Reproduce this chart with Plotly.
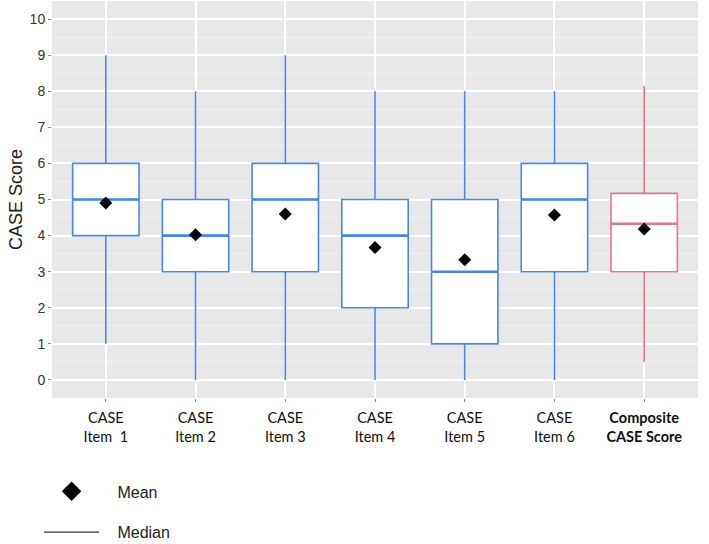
import plotly.graph_objects as go

categories = ["CASE<br>Item  1", "CASE<br>Item 2", "CASE<br>Item 3", "CASE<br>Item 4",
              "CASE<br>Item 5", "CASE<br>Item 6", "<b>Composite</b><br><b>CASE Score</b>"]
q1 = [4, 3, 3, 2, 1, 3, 3.0]
median = [5, 4, 5, 4, 3, 5, 4.33]
q3 = [6, 5, 6, 5, 5, 6, 5.17]
lower = [1, 0, 0, 0, 0, 0, 0.5]
upper = [9, 8, 9, 8, 8, 8, 8.15]
means = [4.9, 4.02, 4.6, 3.67, 3.33, 4.57, 4.18]
colors = ["#4A86E8"] * 6 + ["#E27882"]
legend_names = ["\u00a0\u00a0\u00a0Mean", "\u00a0\u00a0\u00a0Median"]

fig = go.Figure()
for i, c in enumerate(categories):
    fig.add_trace(go.Box(
        x=[c], q1=[q1[i]], median=[median[i]], q3=[q3[i]],
        lowerfence=[lower[i]], upperfence=[upper[i]],
        fillcolor="white", line=dict(color=colors[i], width=1.6),
        whiskerwidth=0, width=0.74, boxpoints=False, showlegend=False,
        hoverinfo="skip"))
    fig.add_trace(go.Box(
        x=[c], q1=[median[i]], median=[median[i]], q3=[median[i]],
        lowerfence=[median[i]], upperfence=[median[i]],
        fillcolor="rgba(0,0,0,0)", line=dict(color=colors[i], width=2.6),
        whiskerwidth=0, width=0.74, boxpoints=False, showlegend=False,
        hoverinfo="skip"))

fig.add_trace(go.Scatter(x=categories, y=means, mode="markers",
                         marker=dict(symbol="diamond", size=10, color="black"),
                         showlegend=False, hoverinfo="skip"))

# legend dummies
fig.add_trace(go.Scatter(x=[None], y=[None], mode="markers", name=legend_names[0],
                         legendgroup="a",
                         marker=dict(symbol="diamond", size=15, color="black")))
fig.add_trace(go.Scatter(x=[None], y=[None], mode="lines", name=legend_names[1],
                         legendgroup="b",
                         line=dict(color="black", width=1)))

fig.update_layout(
    width=709, height=544,
    margin=dict(l=52, r=11, t=1, b=146, autoexpand=False),
    paper_bgcolor="white", plot_bgcolor="#E8E8E8",
    boxmode="overlay",
    font=dict(family="Liberation Sans, Arial, sans-serif", color="#222222"),
    legend=dict(x=-0.020, y=0.128, xanchor="left", yanchor="top",
                yref="container",
                orientation="v", traceorder="grouped", tracegroupgap=17,
                itemwidth=55, font=dict(size=16, color="#222222"),
                bgcolor="rgba(0,0,0,0)"),
    xaxis=dict(range=[-0.6, 6.6], showgrid=True, gridcolor="white", gridwidth=1.5,
               ticks="outside", ticklen=3, tickcolor="#888888",
               ticklabelstandoff=4,
               tickfont=dict(family="Lato, Carlito, sans-serif", size=14.5, color="#111111"),
               zeroline=False, fixedrange=True, automargin=False),
    yaxis=dict(range=[-0.5, 10.5], tickmode="array",
               tickvals=list(range(0, 11)),
               showgrid=True, gridcolor="white", gridwidth=1.5,
               minor=dict(dtick=0.5, tick0=0.5, showgrid=True, gridcolor="#F2F2F2", gridwidth=0.8),
               ticks="outside", ticklen=3, tickcolor="#888888",
               tickfont=dict(size=14, color="#333333"),
               zeroline=False, automargin=False,
               title=dict(text="CASE Score", font=dict(size=18, color="#222222"), standoff=2)),
)

fig.write_html("out.html", config={"displayModeBar": False},
               post_script="document.body.style.margin='0';")
